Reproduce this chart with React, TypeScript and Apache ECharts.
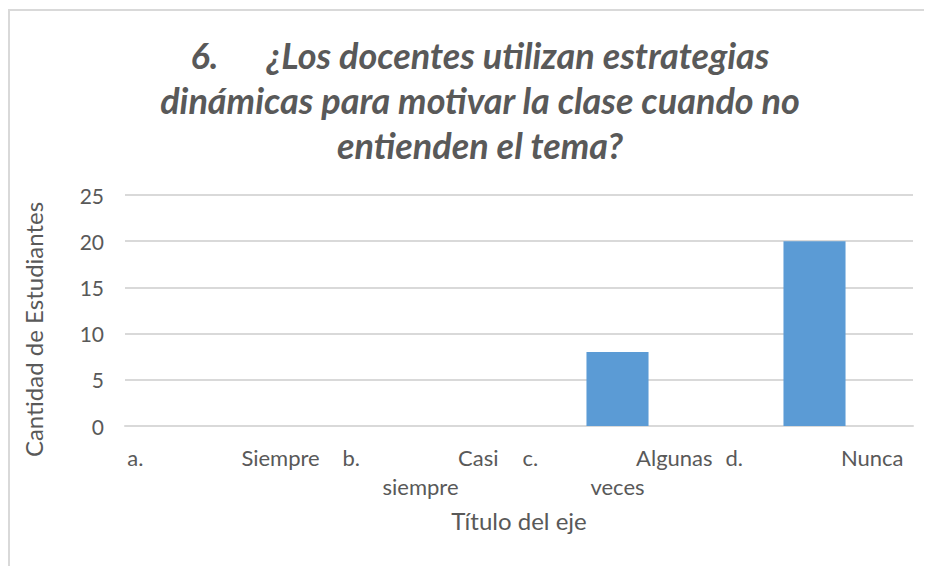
import React, { useEffect, useRef } from "react";
import * as echarts from "echarts";

const titleLines = [
  ["6.", "¿Los docentes utilizan estrategias"],
  ["dinámicas para motivar la clase cuando no"],
  ["entienden el tema?"],
];
const categories = ["a.\tSiempre", "b.\tCasi\nsiempre", "c.\tAlgunas\nveces", "d.\tNunca"];
const values = [0, 0, 8, 20];
const yAxisName = "Cantidad de Estudiantes";
const xAxisName = "Título del eje";

const GRAY = "#595959";
const FONT = "Lato";

function richLine(parts: string[]) {
  return parts.map((p) => `{t|${p}}`).join("{g| }");
}

export default function App() {
  const ref = useRef<HTMLDivElement>(null);
  useEffect(() => {
    if (!ref.current) return;
    const chart = echarts.init(ref.current, null, { renderer: "svg" });
    chart.setOption({
      animation: false,
      backgroundColor: "#ffffff",
      title: {
        text: titleLines.map(richLine).join("\n"),
        left: 470,
        top: 21,
        padding: 0,
        textAlign: "center",
        textStyle: {
          rich: {
            t: {
              fontFamily: FONT,
              fontSize: 36,
              fontWeight: "bold",
              fontStyle: "italic",
              color: GRAY,
              lineHeight: 45,
              align: "center",
            },
            g: { width: 48, fontSize: 36, lineHeight: 45, align: "center" },
          },
        },
      },
      grid: { left: 115, top: 184, right: 19, bottom: 140, containLabel: false },
      xAxis: {
        type: "category",
        data: categories,
        name: xAxisName,
        nameLocation: "middle",
        nameGap: 82,
        nameTextStyle: { fontFamily: FONT, fontSize: 24, color: GRAY },
        axisLine: { show: true, lineStyle: { color: "#d9d9d9", width: 2 } },
        axisTick: { show: false },
        axisLabel: {
          interval: 0,
          margin: 17,
          formatter: (v: string) =>
            v
              .split("\n")
              .map((line) => richLine(line.split("\t")))
              .join("\n"),
          rich: {
            t: { fontFamily: FONT, fontSize: 22, color: GRAY, lineHeight: 29, align: "center" },
            g: { width: 98, fontSize: 22, lineHeight: 29, align: "center" },
          },
        },
      },
      yAxis: {
        type: "value",
        min: 0,
        max: 25,
        interval: 5,
        name: yAxisName,
        nameLocation: "middle",
        nameGap: 80,
        nameTextStyle: { fontFamily: FONT, fontSize: 24, color: GRAY, padding: [0, 38, 0, 0] },
        axisLine: { show: false },
        axisTick: { show: false },
        axisLabel: { margin: 21, fontFamily: FONT, fontSize: 21, color: GRAY },
        splitLine: { lineStyle: { color: "#d9d9d9", width: 2 } },
      },
      series: [
        {
          type: "bar",
          data: values,
          barWidth: "31.5%",
          itemStyle: { color: "#5b9bd5" },
        },
      ],
    });
    return () => chart.dispose();
  }, []);
  return (
    <div
      style={{
        width: 924,
        height: 558,
        boxSizing: "border-box",
        borderTop: "2px solid #d9d9d9",
        borderLeft: "2px solid #d9d9d9",
        marginTop: 1,
      }}
    >
      <div ref={ref} style={{ width: 922, height: 555 }} />
    </div>
  );
}
